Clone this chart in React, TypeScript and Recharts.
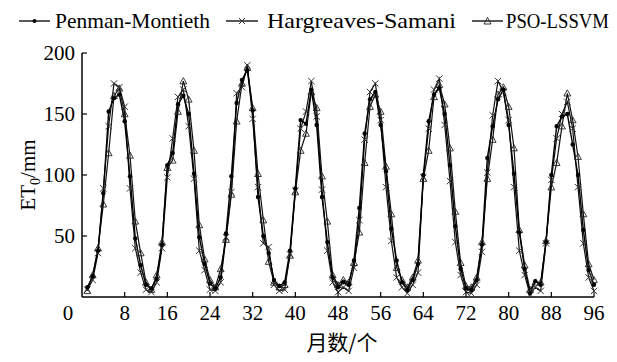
import React from 'react';
import { LineChart, Line, XAxis, YAxis, Legend } from 'recharts';

const months: number[] = Array.from({ length: 96 }, (_, i) => i + 1);

const penmanMontieth = [
  8, 17, 38, 85, 152, 163, 166, 144, 99, 48, 26, 10,
  7, 15, 43, 108, 118, 158, 165, 150, 101, 49, 27, 11,
  7, 16, 52, 99, 159, 178, 186, 153, 82, 50, 36, 14,
  9, 12, 38, 89, 145, 142, 170, 141, 82, 45, 16, 8,
  12, 10, 30, 73, 134, 162, 168, 141, 103, 56, 30, 12,
  6, 14, 27, 100, 144, 166, 171, 150, 108, 58, 23, 7,
  6, 14, 43, 114, 140, 162, 170, 141, 101, 53, 23, 3,
  13, 10, 45, 100, 140, 148, 150, 125, 100, 55, 22, 10,
];

const hargreavesSamani = [
  6, 14, 36, 89, 140, 175, 172, 156, 89, 40, 20, 6,
  4, 12, 40, 98, 130, 164, 170, 140, 97, 38, 22, 6,
  5, 12, 49, 86, 167, 172, 190, 146, 90, 44, 41, 10,
  5, 6, 35, 87, 138, 152, 177, 148, 88, 38, 12, 4,
  8, 5, 24, 63, 129, 168, 175, 145, 90, 46, 16, 8,
  3, 10, 20, 98, 138, 170, 179, 141, 95, 45, 18, 4,
  3, 10, 37, 102, 149, 177, 168, 145, 90, 38, 18, 2,
  8, 5, 44, 96, 130, 150, 160, 138, 90, 44, 16, 5,
];

const psoLssvm = [
  5, 18, 40, 76, 118, 165, 171, 150, 116, 62, 36, 12,
  6, 18, 45, 106, 112, 152, 177, 162, 120, 59, 31, 14,
  8, 23, 47, 84, 144, 175, 188, 155, 101, 63, 29, 12,
  8, 10, 34, 86, 120, 134, 168, 155, 99, 62, 18, 10,
  14, 12, 28, 53, 110, 156, 166, 152, 107, 68, 24, 14,
  8, 16, 30, 97, 120, 164, 174, 158, 122, 70, 28, 9,
  8, 16, 45, 97, 129, 166, 172, 156, 122, 55, 26, 6,
  12, 12, 46, 90, 110, 140, 167, 145, 115, 68, 27, 14,
];

const seriesNames = ['Penman-Montieth', 'Hargreaves-Samani', 'PSO-LSSVM'];
const xTicks = [0, 8, 16, 24, 32, 40, 48, 56, 64, 72, 80, 88, 96];
const yTicks = [50, 100, 150, 200];
const xLabel = '月数/个';

const data = months.map((m, i) => ({
  month: m,
  pm: penmanMontieth[i],
  hs: hargreavesSamani[i],
  pso: psoLssvm[i],
}));

const W = 617;
const H = 362;
const FONT = "'Times New Roman', 'Liberation Serif', 'DejaVu Serif', serif";
const CJK = "'Noto Sans CJK SC', sans-serif";

const DotMark = (p: any) => (
  <circle key={`pm-${p.index}`} cx={p.cx} cy={p.cy} r={2.2} fill="#000" />
);
const CrossMark = (p: any) => {
  const s = 3.2;
  return (
    <path
      key={`hs-${p.index}`}
      d={`M${p.cx - s},${p.cy - s}L${p.cx + s},${p.cy + s}M${p.cx - s},${p.cy + s}L${p.cx + s},${p.cy - s}`}
      stroke="#333"
      strokeWidth={1}
      fill="none"
    />
  );
};
const TriMark = (p: any) => {
  const s = 3.4;
  return (
    <path
      key={`pso-${p.index}`}
      d={`M${p.cx},${p.cy - s}L${p.cx + s},${p.cy + s * 0.8}L${p.cx - s},${p.cy + s * 0.8}Z`}
      stroke="#222"
      strokeWidth={0.9}
      fill="none"
    />
  );
};

const XTick = (props: any) => {
  const { x, y, payload } = props;
  const v = payload.value;
  return (
    <g>
      {v !== 0 && <line x1={x} y1={y} x2={x} y2={y - 5} stroke="#000" strokeWidth={1.2} />}
      <text x={v === 0 ? x - 14 : x} y={y + 23} textAnchor="middle" fontSize={21} fontFamily={FONT} fill="#000">
        {v}
      </text>
    </g>
  );
};

const YTick = (props: any) => {
  const { x, y, payload } = props;
  return (
    <g>
      <line x1={x} y1={y} x2={x + 5} y2={y} stroke="#000" strokeWidth={1.2} />
      <text x={x - 7} y={y} dy="0.35em" textAnchor="end" fontSize={21} fontFamily={FONT} fill="#000">
        {payload.value}
      </text>
    </g>
  );
};

const legendItems = [
  { x1: 19, x2: 50, text: 55, len: 155, fs: 21 },
  { x1: 226, x2: 258, text: 267, len: 189, fs: 22 },
  { x1: 472, x2: 503, text: 506, len: 103, fs: 20 },
];

const renderLegend = () => (
  <svg width={W} height={34} style={{ display: 'block' }}>
    {seriesNames.map((name, i) => {
      const it = legendItems[i];
      const mx = (it.x1 + it.x2) / 2;
      const ly = 21;
      return (
        <g key={name}>
          <line x1={it.x1} y1={ly} x2={it.x2} y2={ly} stroke="#000" strokeWidth={1.3} />
          {i === 0 && <circle cx={mx} cy={ly} r={2} fill="#000" />}
          {i === 1 && <path d={`M${mx - 3},${ly - 3}L${mx + 3},${ly + 3}M${mx - 3},${ly + 3}L${mx + 3},${ly - 3}`} stroke="#333" strokeWidth={1} />}
          {i === 2 && <path d={`M${mx},${ly - 3.5}L${mx + 3.5},${ly + 3}L${mx - 3.5},${ly + 3}Z`} stroke="#222" strokeWidth={0.9} fill="none" />}
          <text
            x={it.text}
            y={28}
            fontFamily={FONT}
            fontSize={it.fs}
            fill="#000"
            textLength={it.len}
            lengthAdjust="spacingAndGlyphs"
          >
            {name}
          </text>
        </g>
      );
    })}
  </svg>
);

const YLabel = () => {
  const cx = 28;
  const cy = 175;
  return (
    <text x={cx} y={cy} transform={`rotate(-90, ${cx}, ${cy})`} textAnchor="middle" fontSize={21} fontFamily={FONT} fill="#000" dy="0.35em">
      ET<tspan fontSize={14} dy={5}>0</tspan><tspan dy={-5}>/mm</tspan>
    </text>
  );
};

const XLabel = () => (
  <text x={342} y={350} textAnchor="middle" fontSize={21} fontFamily={CJK} fill="#000">
    {xLabel}
  </text>
);

export default function App() {
  return (
    <div style={{ position: 'absolute', left: 0, top: 0, width: W, height: H }}>
      <LineChart width={W} height={H} data={data} margin={{ top: 53, right: 23, left: 0, bottom: 35 }}>
        <XAxis
          dataKey="month"
          type="number"
          domain={[0, 96]}
          ticks={xTicks}
          interval={0}
          tickSize={0}
          tickMargin={0}
          tick={<XTick />}
          height={30}
          axisLine={{ stroke: '#000', strokeWidth: 1.5 }}
          tickLine={false}
          label={<XLabel />}
        />
        <YAxis
          type="number"
          domain={[0, 200]}
          ticks={yTicks}
          interval={0}
          tickSize={0}
          tickMargin={0}
          tick={<YTick />}
          width={82}
          axisLine={{ stroke: '#000', strokeWidth: 1.5 }}
          tickLine={false}
          label={<YLabel />}
        />
        <Legend
          layout="horizontal"
          verticalAlign="middle"
          align="center"
          wrapperStyle={{ top: 0, left: 0, width: W, height: 34 }}
          content={renderLegend}
        />
        <Line type="linear" dataKey="hs" name={seriesNames[1]} stroke="#111" strokeWidth={1.2} dot={CrossMark} activeDot={false} isAnimationActive={false} />
        <Line type="linear" dataKey="pso" name={seriesNames[2]} stroke="#111" strokeWidth={1.2} dot={TriMark} activeDot={false} isAnimationActive={false} />
        <Line type="linear" dataKey="pm" name={seriesNames[0]} stroke="#000" strokeWidth={1.4} dot={DotMark} activeDot={false} isAnimationActive={false} />
      </LineChart>
    </div>
  );
}
